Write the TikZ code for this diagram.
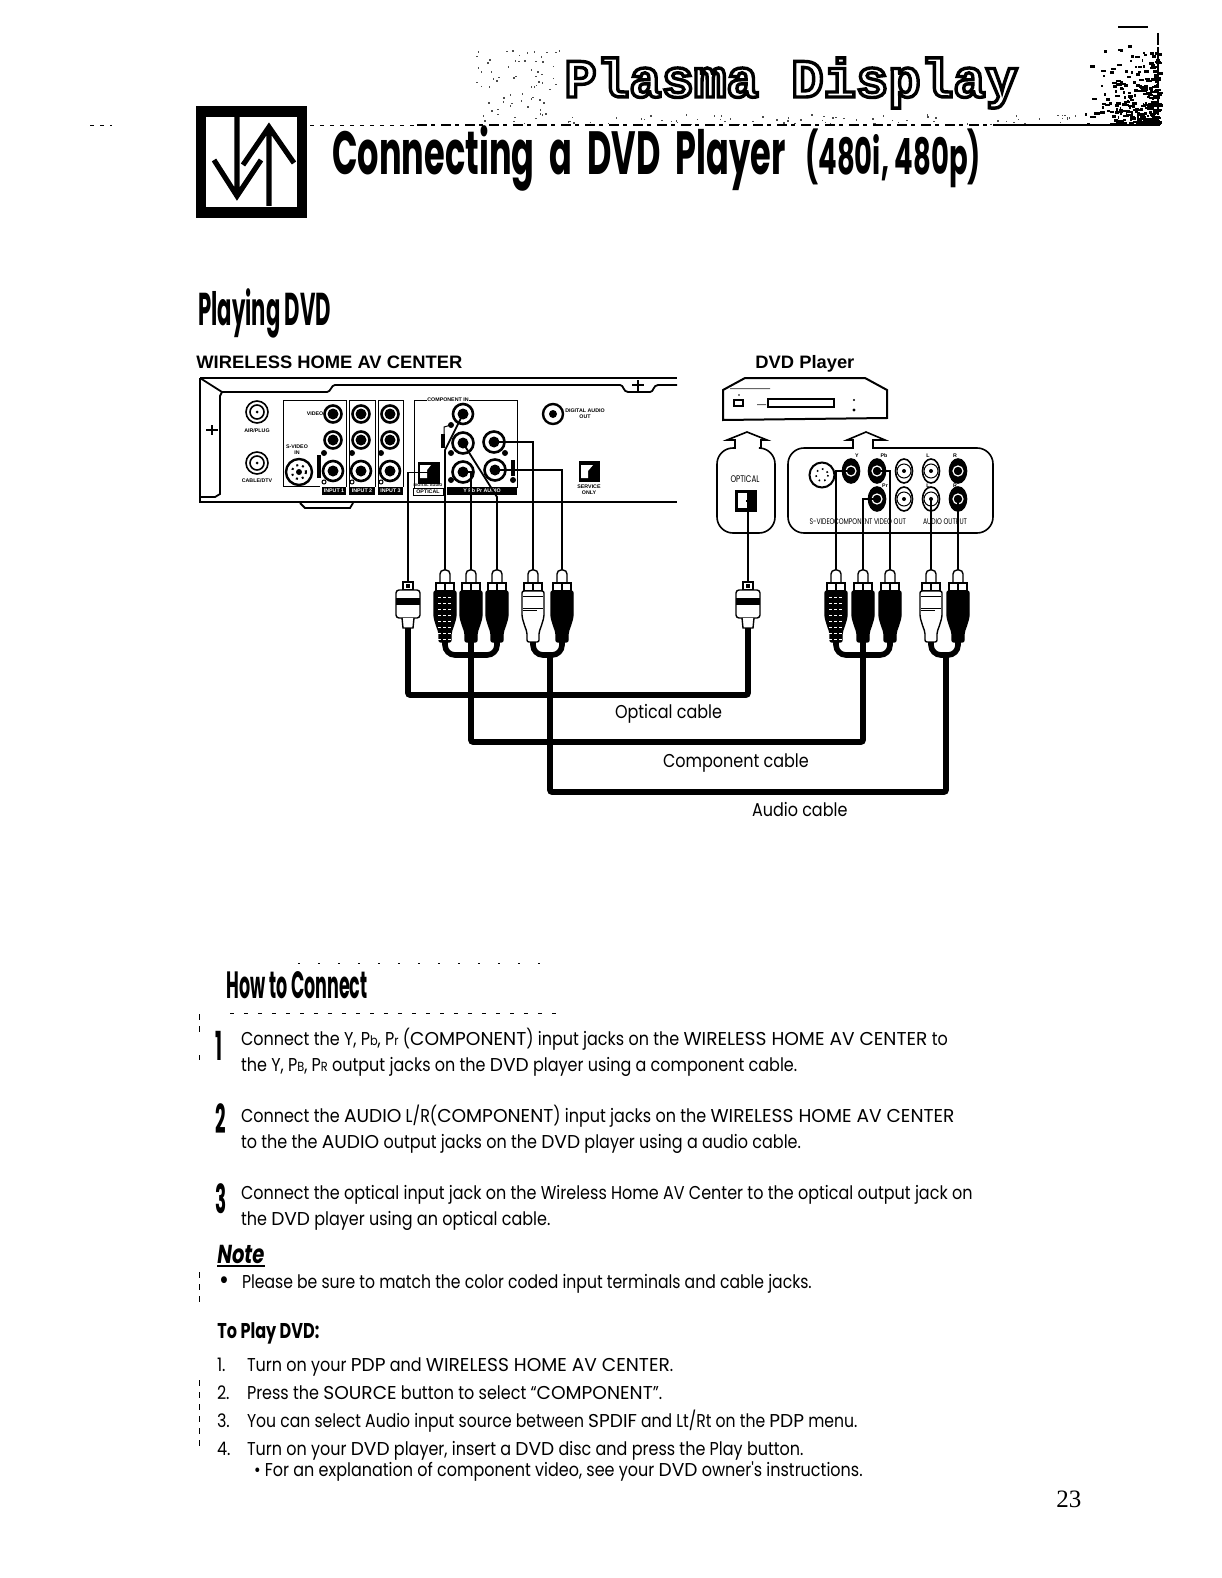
\documentclass[tikz,border=0pt]{standalone}
\usepackage{fontspec}
\usepackage{xcolor}
\usetikzlibrary{calc,shapes.geometric}
\newfontfamily\bodyfont[FakeStretch=0.86]{Poppins}
\newfontfamily\tightfont[FakeStretch=0.84]{Poppins}
\newfontfamily\capfont[FakeStretch=1.0]{Poppins}
\newfontfamily\headfont[FakeStretch=0.55]{Poppins}
\newfontfamily\narrowfont[FakeStretch=0.46]{Poppins}
\newfontfamily\subfont[FakeStretch=0.75]{Poppins}
\newfontfamily\labelfont[FakeStretch=1.02]{Liberation Sans}
\newfontfamily\pagefont{Liberation Serif}
\newfontfamily\bannerfont{Liberation Mono}
\newcommand{\smc}[1]{{\fontsize{6.6}{8}\selectfont #1}}
\newcommand{\cp}[1]{{\capfont #1}}
\newcommand{\outlined}[1]{\special{pdf:literal direct 1 Tr 1.7 w}#1\special{pdf:literal direct 0 Tr}}
% one RCA plug: name, x, body colour
\newcommand{\rcaplug}[3]{%
  \begin{scope}[shift={(#2,570)}]
    \draw[plugline,fill=white,rounded corners=2pt] (-5,13) -- (-5,0) -- (5,0) -- (5,13);
    \draw[plugline,fill=white] (-9,13) rectangle (9,21);
    \draw[plugline] (0,13) -- (0,21);
    \draw[plugline,fill=#3,rounded corners=1pt] (-11,21) -- (-11,47) -- (-8,57) -- (-6,62) -- (-6,72)
       -- (6,72) -- (6,62) -- (8,57) -- (11,47) -- (11,21) -- cycle;
    \coordinate (#1t) at (0,0);
    \coordinate (#1b) at (0,72);
  \end{scope}}
% one optical plug: name, x
\newcommand{\optplug}[2]{%
  \begin{scope}[shift={(#2,582)}]
    \draw[plugline,fill=white] (-5,0) rectangle (5,8);
    \fill (-2,2) rectangle (2,6);
    \draw[plugline,fill=white,rounded corners=1.5pt] (-12,8) rectangle (12,36);
    \fill (-12,16) rectangle (12,23);
    \draw[plugline,fill=white] (-6,36) -- (-5,46) -- (5,46) -- (6,36);
    \coordinate (#1t) at (0,0);
    \coordinate (#1b) at (0,46);
  \end{scope}}

\begin{document}
\begin{tikzpicture}[x=.5pt,y=-.5pt,
   txt/.style={anchor=base west,inner sep=0pt,outer sep=0pt,font=\bodyfont\fontsize{9.3}{11}\selectfont},
   stepno/.style={anchor=base west,inner sep=0pt,font=\narrowfont\bfseries\fontsize{20}{22}\selectfont},
   panlab/.style={anchor=base west,inner sep=0pt,font=\labelfont\bfseries\fontsize{9}{10}\selectfont},
   tinylab/.style={inner sep=0pt,font=\labelfont\bfseries\fontsize{2.6}{3}\selectfont,align=center},
   tag/.style={fill=black,text=white,inner sep=0pt,minimum height=4pt,font=\labelfont\bfseries\fontsize{2.6}{3}\selectfont},
   jack/.style={circle,draw,line width=1.3pt,fill=white,inner sep=0pt,minimum size=#1,
      path picture={\fill[black] (path picture bounding box.center) circle (5.5);}},
   rfjack/.style={circle,draw,line width=.8pt,fill=white,inner sep=0pt,minimum size=11pt,
      path picture={\draw (path picture bounding box.center) circle (7);\fill[black] (path picture bounding box.center) circle (1.5);}},
   ovalb/.style={ellipse,draw,line width=.8pt,fill=black,inner sep=0pt,minimum width=8.5pt,minimum height=12pt,
      path picture={\draw[white,line width=.6pt] (path picture bounding box.center) circle (5);}},
   ovalw/.style={ellipse,draw,line width=.8pt,fill=white,inner sep=0pt,minimum width=8.5pt,minimum height=12pt,
      path picture={\draw[line width=.5pt] (path picture bounding box.center) circle (7);\fill[black] (path picture bounding box.center) circle (2);}},
   sqjack/.style={rectangle,fill=black,inner sep=0pt,minimum width=#1,minimum height=#1},
   smalldot/.style={circle,fill=black,inner sep=0pt,minimum size=3pt},
   panel/.style={line width=1.2pt},
   boxline/.style={line width=.5pt},
   plugline/.style={line width=.7pt},
   wire/.style={line width=.9pt},
   cable/.style={line width=2.8pt,rounded corners=1pt}]
  \useasboundingbox (0,0) rectangle (1221,1578);

  % scan noise round the banner
  \pgfmathsetseed{23}
  \foreach \n in {1,...,300} {
    \pgfmathsetmacro\sx{1157-80*rnd*rnd}
    \pgfmathsetmacro\sy{124-90*rnd*rnd}
    \pgfmathsetmacro\sw{1.5+5*rnd}
    \fill (\sx,\sy) rectangle ++(\sw,2.5);
  }
  \foreach \n in {1,...,70} {
    \pgfmathsetmacro\sx{474+88*rnd}
    \pgfmathsetmacro\sy{50+74*rnd}
    \fill[black!70] (\sx,\sy) rectangle ++(1.5,1.5);
  }
  \foreach \n in {1,...,70} {
    \pgfmathsetmacro\sx{560+520*rnd}
    \pgfmathsetmacro\sy{114+10*rnd}
    \fill[black!70] (\sx,\sy) rectangle ++(1.5,1.5);
  }
  \draw[line width=.8pt] (1118,27) -- (1148,27);
  \draw[line width=.8pt,dash pattern=on 6pt off 1pt] (1158,33) -- (1158,125);
  \draw[line width=.5pt,dash pattern=on 2pt off 3pt] (90,126) -- (112,126) (310,126) -- (417,126);
  \draw[line width=.6pt,dash pattern=on 5pt off 2pt on 2pt off 3pt] (417,125) -- (1000,125);
  \draw[line width=1pt] (1000,125) -- (1160,125);

  % header
  \node[inner sep=0pt,anchor=base west,font=\bannerfont\bfseries\fontsize{27}{28}\selectfont] (banner) at (564,97) {\outlined{Plasma Display}};
  \node[draw,line width=5.3pt,minimum width=50.5pt,minimum height=50.5pt,inner sep=0pt] (icon) at (251.5,162) {};
  \draw[line width=2.6pt] (237,117) -- (237,196) (214,160) -- (237,196) -- (261,160);
  \draw[line width=2.6pt] (269,206) -- (269,127) (243,165) -- (269,127) -- (294,163);
  \node[anchor=base west,inner sep=0pt,font=\headfont\bfseries\fontsize{30.5}{32}\selectfont] (title) at (332,175) {Connecting\hspace{4pt} a\hspace{4pt} DVD\hspace{4pt} Player};
  \node[anchor=base west,inner sep=0pt,font=\headfont\bfseries\fontsize{25}{27}\selectfont] (titleb) at (805,175) {(480i, 480p)};
  \node[anchor=base west,inner sep=0pt,font=\narrowfont\bfseries\fontsize{23}{25}\selectfont] (playing) at (198,325) {Playing DVD};

  % rear of the home AV center
  \node[panlab] (avlab) at (196,368) {WIRELESS HOME AV CENTER};
  \draw[panel] (200,378) -- (677,378) (200,378) -- (200,502) -- (677,502);
  \draw[boxline,line width=.9pt] (200,378) -- (222,392) -- (327,392) .. controls (331,392) and (331,385) .. (335,385)
     -- (620,385) .. controls (624,385) and (623,392) .. (628,392) -- (650,392) .. controls (654,392) and (653,385) .. (658,385) -- (677,385);
  \draw[boxline,line width=.9pt] (222,392) -- (220,396) -- (220,494) -- (215,497) -- (200,497);
  \draw[boxline,line width=.9pt] (300,503) -- (305,508) -- (350,508) -- (353,503);
  \draw[line width=1.2pt] (206,430) -- (218,430) (212,425) -- (212,435);
  \draw[line width=1.2pt] (632,385) -- (644,385) (638,380) -- (638,391);

  \draw[boxline] (320,486) -| (283,400) -| (346,487);
  \draw[boxline] (349,487) |- (375,400) -- (375,487);
  \draw[boxline] (378,487) |- (403,400) -- (403,487);
  \draw[boxline] (414,488) |- (517,400) -- (517,488);
  \node[tinylab,fill=white] (complab) at (448,400) {COMPONENT IN};
  \node[tag,minimum width=12pt] (tag1) at (334,491) {INPUT 1};
  \node[tag,minimum width=13pt] (tag2) at (362,491) {INPUT 2};
  \node[tag,minimum width=12.5pt] (tag3) at (390.5,491) {INPUT 3};
  \node[tag,minimum width=35pt] (tag4) at (482,491) {Y Pb Pr AUDIO};
  \node[draw,line width=.4pt,fill=white,tinylab,minimum width=15pt,minimum height=3.6pt] (tag5) at (428,491.5) {OPTICAL};

  \node[rfjack] (ant) at (257,412) {};
  \node[tinylab] (antlab) at (257,431) {AIR/PLUG};
  \node[rfjack] (cab) at (257,463) {};
  \node[tinylab] (cablab) at (257,481) {CABLE/DTV};
  \node[circle,draw,line width=1.2pt,fill=white,inner sep=0pt,minimum size=13pt,
      path picture={\fill[black] (path picture bounding box.center) circle (3);\draw[line width=1pt,dotted] (path picture bounding box.center) circle (7);}] (svid) at (299,472) {};
  \node[tinylab] (svidlab) at (297,450) {S-VIDEO\\IN};
  \node[tinylab] (vidlab) at (315,414) {VIDEO};
  \foreach \cx/\cn in {333/a,361/b,390/c} {
    \node[jack=8.5pt] (j\cn1) at (\cx,414) {};
    \node[jack=8.5pt] (j\cn2) at (\cx,440) {};
    \node[jack=10pt] (j\cn3) at (\cx,471) {};
    \node[smalldot] (dot\cn1) at (\cx-9,453) {};
    \node[smalldot,fill=white,draw,line width=.5pt,minimum size=2pt] (dot\cn2) at (\cx-9,482) {};
  }
  \fill (317,455) rectangle (321,478);

  \node[jack=10pt] (jy) at (463,414) {};
  \node[jack=10.5pt] (jpb) at (463,443) {};
  \node[jack=10.5pt] (jl) at (494,442) {};
  \node[jack=10.5pt] (jpr) at (463,472) {};
  \node[jack=10.5pt] (jr) at (495,470) {};
  \foreach \dn/\dx/\dy in {d1/451/425,d2/451/453,d3/451/480,d4/505/453,d5/513/480} {
    \node[smalldot] (\dn) at (\dx,\dy) {};
  }
  \draw[boxline] (451,425) -- (444,427) -- (444,436);
  \fill (441,434) rectangle (445,448);
  \fill (511,460) rectangle (515,476);

  \node[sqjack=11pt] (jopt) at (429,472.5) {};
  \fill[white] (420,478) -- (420,465) -- (431,465) -- (427,470) -- (427,478) -- cycle;
  \node[inner sep=0pt,font=\labelfont\bfseries\fontsize{1.9}{2}\selectfont] (optlab) at (428,485) {DIGITAL AUDIO};
  \node[sqjack=10.5pt] (jnone) at (589.5,471.5) {};
  \fill[white] (581,478) -- (581,465) -- (593,465) -- (588,471) -- (588,478) -- cycle;
  \node[tinylab] (nonelab) at (589,490) {SERVICE\\ONLY};
  \node[circle,draw,line width=1.2pt,inner sep=0pt,minimum size=10pt,
      path picture={\fill[black] (path picture bounding box.center) circle (4);}] (jext) at (553,414) {};
  \node[tinylab] (extlab) at (585,414) {DIGITAL AUDIO\\OUT};

  % DVD player
  \node[panlab] (dvdlab) at (755,368) {DVD Player};
  \draw[panel,line width=1pt,fill=white] (723,390) -- (745,378) -- (865,378) -- (887,390) -- (887,418) -- (723,420) -- cycle;
  \draw[line width=.9pt] (768,399) rectangle (834,407);
  \draw[line width=.9pt] (734,400) rectangle (743,406);
  \fill (739,395) circle (.8) (854,400) circle (1.2) (854,410) circle (1.6);
  \fill[black!60] (730,388) rectangle (770,389) (757,404) rectangle (766,405);

  \draw[boxline,line width=.8pt] (735,448) [rounded corners=8pt] -- (717,448) -- (717,533) -- (775,533) -- (775,448) [sharp corners] -- (761,448)
     -- (761,440) -- (767,440) -- (747,432) -- (727,440) -- (735,440) -- cycle;
  \node[inner sep=0pt,font=\subfont\fontsize{4.8}{6}\selectfont] (optical) at (745,479) {OPTICAL};
  \node[sqjack=11pt] (dopt) at (746,501) {};
  \fill[white] (738,508) -- (738,493) -- (747,493) -- (747,508) -- cycle;

  \draw[boxline,line width=.8pt] (853,448) [rounded corners=8pt] -- (788,448) -- (788,533) -- (993,533) -- (993,448) [sharp corners] -- (873,448)
     -- (873,440) -- (885,440) -- (866,432) -- (847,440) -- (853,440) -- cycle;
  \node[circle,draw,line width=1pt,fill=white,inner sep=0pt,minimum size=12.5pt,
      path picture={\draw[dotted,line width=.8pt] (path picture bounding box.center) circle (6);}] (dsvid) at (822,475) {};
  \node[ovalb] (dy) at (851,471) {};
  \node[ovalb] (dpb) at (877,471) {};
  \node[ovalb] (dpr) at (877,499) {};
  \node[ovalw] (dv1) at (904,471) {};
  \node[ovalw] (dv2) at (904,499) {};
  \node[ovalw] (dl1) at (931,471) {};
  \node[ovalw] (dl2) at (931,499) {};
  \node[ovalb] (dr1) at (958,471) {};
  \node[ovalb] (dr2) at (958,499) {};
  \foreach \ln/\lx/\ly/\lt in {ly/857/456/Y,lb/884/456/Pb,lr/885/486/Pr,ll1/928/456/L,lr1/955/456/R,ll2/928/486/L,lr2/955/486/R} {
    \node[tinylab] (\ln) at (\lx,\ly) {\lt};
  }
  \node[inner sep=0pt,font=\subfont\fontsize{4.1}{6}\selectfont] (lsvid) at (822,522) {S-VIDEO};
  \node[inner sep=0pt,font=\subfont\fontsize{4.1}{6}\selectfont] (lcomp) at (870,522) {COMPONENT VIDEO OUT};
  \node[inner sep=0pt,font=\subfont\fontsize{4.1}{6}\selectfont] (laud) at (945,522) {AUDIO OUTPUT};

  % plugs
  \optplug{po}{408}
  \rcaplug{pa}{445}{black}
  \rcaplug{pb}{471}{black}
  \rcaplug{pc}{497}{black}
  \rcaplug{pd}{533}{white}
  \rcaplug{pe}{562}{black}
  \optplug{qo}{748}
  \rcaplug{qa}{836}{black}
  \rcaplug{qb}{863}{black}
  \rcaplug{qc}{890}{black}
  \rcaplug{qd}{931}{white}
  \rcaplug{qe}{958}{black}
  \foreach \px in {445,836} \foreach \ry in {597,603,...,639} {
    \draw[white,line width=.5pt,dash pattern=on 1.5pt off 1pt] (\px-7,\ry) -- (\px+7,\ry);
  }
  \foreach \px in {533,931} {
    \draw[line width=.4pt] (\px-10,596) -- (\px+10,596) (\px-10,608) -- (\px+10,608) (\px-10,610) -- (\px+4,610);
  }

  % thin leads into the jacks
  \coordinate (kinka) at (445,450);
  \coordinate (kinkc) at (497,497);
  \draw[wire] (jopt.center) -| (pot);
  \draw[wire] (jy.center) -- (kinka) -- (pat);
  \draw[wire] (jpr.center) -| (pbt);
  \draw[wire] (jpb.center) -- (kinkc) -- (pct);
  \draw[wire] (jl.center) -| (pdt);
  \draw[wire] (jr.center) -| (pet);
  \draw[wire] (dopt.center) -| (qot);
  \draw[wire] (dy.center) -| (qat);
  \draw[wire] (dpr.center) -| (qbt);
  \draw[wire] (dpb.center) -| (qct);
  \draw[wire] (dl2.center) -- (qdt);
  \draw[wire] (dr2.center) -- (qet);

  % the three cables
  \coordinate (optm) at (600,695);
  \coordinate (comm) at (600,742);
  \coordinate (audm) at (700,792);
  \coordinate (audl) at (550,655);
  \coordinate (audr) at (946,655);
  \draw[cable,rounded corners=5pt] (pab) -- ++(0,13) -| (pcb);
  \draw[cable,rounded corners=5pt] (pdb) -- ++(0,13) -| (peb);
  \draw[cable,rounded corners=5pt] (qab) -- ++(0,13) -| (qcb);
  \draw[cable,rounded corners=5pt] (qdb) -- ++(0,13) -| (qeb);
  \draw[cable] (pob) |- (optm) -| (qob);
  \draw[cable] (pbb) |- (comm) -| (qbb);
  \draw[cable] (audl) |- (audm) -| (audr);
  \node[txt] (optcap) at (615,718) {Optical cable};
  \node[txt] (comcap) at (663,767) {Component cable};
  \node[txt] (audcap) at (752,816) {Audio cable};

  % instructions
  \draw[boxline,dash pattern=on 1pt off 9pt] (298,963) -- (540,963);
  \draw[boxline,dash pattern=on 2pt off 5pt] (230,1013) -- (565,1013);
  \draw[boxline,dash pattern=on 3pt off 3pt] (199,1014) -- (199,1036) (199,1055) -- (199,1060) (199,1272) -- (199,1303) (199,1380) -- (199,1446);
  \node[anchor=base west,inner sep=0pt,font=\narrowfont\bfseries\fontsize{19}{21}\selectfont] (howto) at (226,998) {How to Connect};
  \node[stepno] (n1) at (215,1060) {1};
  \node[stepno] (n2) at (215,1133) {2};
  \node[stepno] (n3) at (215,1213) {3};
  \node[txt] (s1a) at (241,1045) {Connect the Y, P\smc{b}, P\smc{r} (\cp{COMPONENT}) input jacks on the \cp{WIRELESS HOME AV CENTER} to};
  \node[txt] (s1b) at (241,1071) {the Y, P\smc{B}, P\smc{R} output jacks on the \cp{DVD} player using a component cable.};
  \node[txt] (s2a) at (241,1122) {Connect the \cp{AUDIO} L/R(\cp{COMPONENT}) input jacks on the \cp{WIRELESS HOME AV CENTER}};
  \node[txt] (s2b) at (241,1148) {to the the \cp{AUDIO} output jacks on the \cp{DVD} player using a audio cable.};
  \node[txt] (s3a) at (241,1199) {Connect the optical input jack on the Wireless Home AV Center to the optical output jack on};
  \node[txt] (s3b) at (241,1225) {the \cp{DVD} player using an optical cable.};
  \node[anchor=base west,inner sep=0pt,font=\subfont\bfseries\itshape\fontsize{13}{15}\selectfont] (note) at (217,1263) {Note};
  \draw[line width=1pt] ($(note.base west)+(0,3)$) -- ($(note.base east)+(0,3)$);
  \node[txt] (notea) at (219,1289) {\fontsize{14}{14}\selectfont\textbullet};
  \node[txt,font=\tightfont\fontsize{9.3}{11}\selectfont] (noteb) at (242,1288) {Please be sure to match the color coded input terminals and cable jacks.};
  \node[anchor=base west,inner sep=0pt,font=\subfont\bfseries\fontsize{10.7}{12}\selectfont] (toplay) at (217,1338) {To Play DVD:};
  \node[txt] (p1n) at (217,1371) {1.};
  \node[txt] (p1) at (247,1371) {Turn on your \cp{PDP} and \cp{WIRELESS HOME AV CENTER}.};
  \node[txt] (p2n) at (217,1399) {2.};
  \node[txt] (p2) at (247,1399) {Press the \cp{SOURCE} button to select “\cp{COMPONENT}”.};
  \node[txt] (p3n) at (217,1427) {3.};
  \node[txt,font=\tightfont\fontsize{9.3}{11}\selectfont] (p3) at (247,1427) {You can select Audio input source between \cp{SPDIF} and Lt/Rt on the \cp{PDP} menu.};
  \node[txt] (p4n) at (217,1455) {4.};
  \node[txt] (p4) at (247,1455) {Turn on your \cp{DVD} player, insert a \cp{DVD} disc and press the Play button.};
  \node[txt] (p5) at (254,1476) {\textbullet\ For an explanation of component video, see your \cp{DVD} owner's instructions.};
  \node[anchor=base west,inner sep=0pt,font=\pagefont\fontsize{12.5}{14}\selectfont] (pageno) at (1056,1507) {23};
\end{tikzpicture}
\end{document}
